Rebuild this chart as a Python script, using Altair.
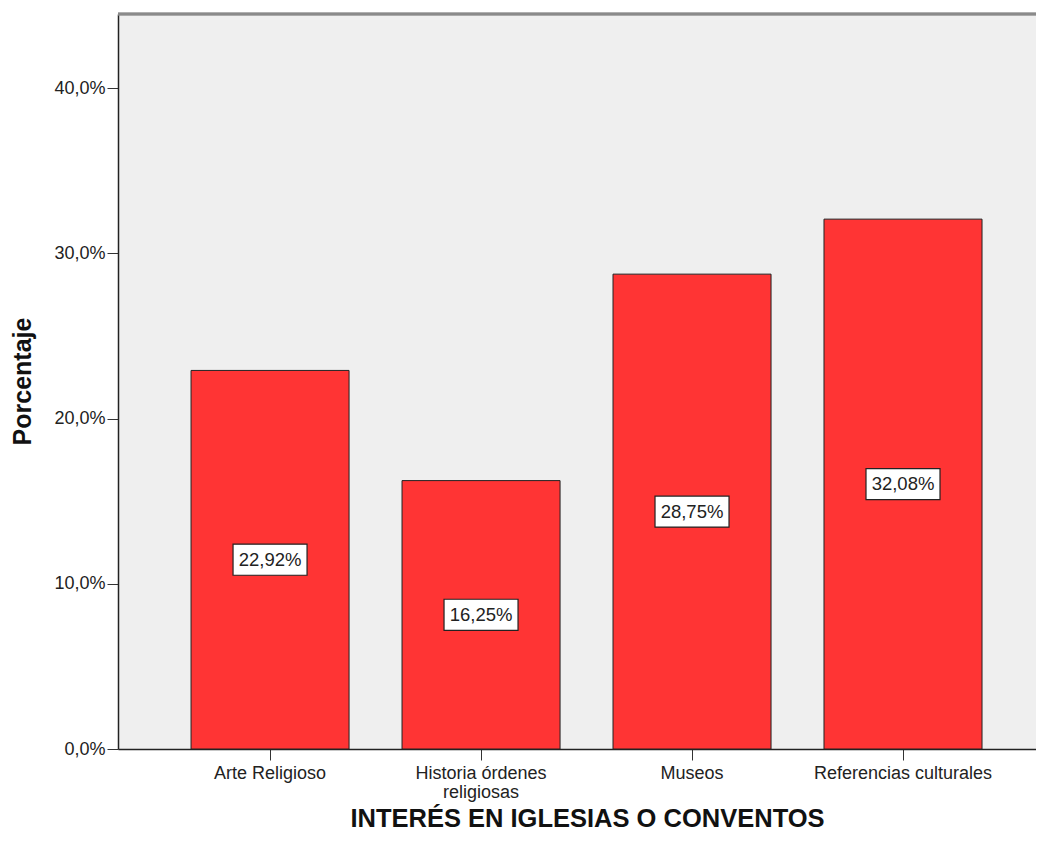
import altair as alt
import pandas as pd

categories = ["Arte Religioso", "Historia órdenes religiosas", "Museos", "Referencias culturales"]
values = [22.92, 16.25, 28.75, 32.08]
labels = ["22,92%", "16,25%", "28,75%", "32,08%"]
y_ticks = [0, 10, 20, 30, 40]

df = pd.DataFrame({"cat": categories, "val": values, "lab": labels})

W, H = 918, 735
FONT = "Liberation Sans"

x_scale = alt.Scale(domain=categories, paddingInner=0.251, paddingOuter=0.301, align=0.575)
y_scale = alt.Scale(domain=[0, 44.5], nice=False)

base = alt.Chart(df)

bars = base.mark_bar(color="#FF3434", stroke="#222222", strokeWidth=1).encode(
    x=alt.X("cat:N", scale=x_scale, sort=categories, title="INTERÉS EN IGLESIAS O CONVENTOS",
            axis=alt.Axis(
                labelExpr="datum.value == 'Historia órdenes religiosas' ? ['Historia órdenes', 'religiosas'] : datum.label",
                labelAngle=0, labelFont=FONT, labelFontSize=18, labelColor="#222222",
                labelPadding=4, labelLineHeight=19, labelLimit=0, labelOverlap=False,
                tickSize=11, tickColor="#333333", domainColor="#222222", domainWidth=1.5,
                titleFont=FONT, titleFontSize=25.5, titleFontWeight="bold", titleColor="#111111",
                titleX=469, titleY=77, titleBaseline="alphabetic", titleAnchor="middle", titleAlign="center",
                grid=False)),
    y=alt.Y("val:Q", scale=y_scale, title="Porcentaje",
            axis=alt.Axis(values=y_ticks,
                          labelExpr="replace(format(datum.value, '.1f'), '.', ',') + '%'",
                          labelFont=FONT, labelFontSize=18, labelColor="#222222", labelPadding=2,
                          tickSize=11, tickColor="#333333", domainColor="#222222", domainWidth=1.5,
                          titleFont=FONT, titleFontSize=25, titleFontWeight="bold", titleColor="#111111",
                          titleX=-96, titleY=367, titleAngle=-90, titleBaseline="middle",
                          titleAlign="center", grid=False)),
)

mid = base.transform_calculate(mid="datum.val / 2")

boxes = mid.mark_point(
    shape="M-1,-0.42 L1,-0.42 L1,0.42 L-1,0.42 Z",
    size=5476, filled=True, fill="white", stroke="#222222", strokeWidth=1.2, opacity=1,
).encode(
    x=alt.X("cat:N", scale=x_scale, sort=categories),
    y=alt.Y("mid:Q", scale=y_scale),
)

texts = mid.mark_text(font=FONT, fontSize=18.5, color="#222222", baseline="middle", align="center").encode(
    x=alt.X("cat:N", scale=x_scale, sort=categories),
    y=alt.Y("mid:Q", scale=y_scale),
    text="lab:N",
)

top_border = alt.Chart(df).mark_rule(color="#8a8a8a", strokeWidth=2.5).encode(
    x=alt.value(0), x2=alt.value(W), y=alt.value(0)
)

chart = alt.layer(bars, boxes, texts, top_border).properties(
    width=W, height=H,
    autosize=alt.AutoSizeParams(type="none"),
    padding={"left": 110, "top": 6, "right": 0, "bottom": 86},
    background="white",
).configure_view(fill="#EFEFEF", stroke=None)

chart.save("out.html", embed_options={"renderer": "svg", "actions": False})
